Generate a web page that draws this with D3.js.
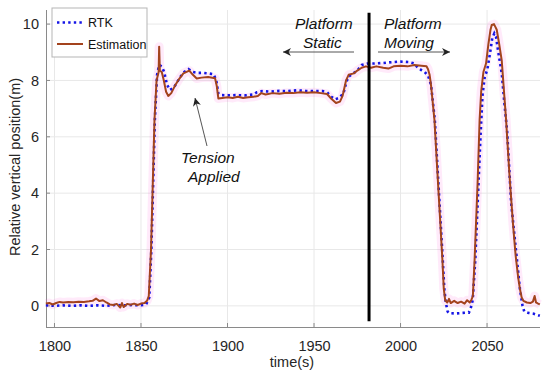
<!DOCTYPE html>
<html><head><meta charset="utf-8">
<script src="https://cdn.jsdelivr.net/npm/d3@7"></script>
<style>
html,body{margin:0;padding:0;background:#fff;}
svg{display:block;font-family:"Liberation Sans",Arial,sans-serif;}
</style></head>
<body><svg id="c" width="550" height="374"></svg>
<script>
// ---- data ----
const xTicks = [1800, 1850, 1900, 1950, 2000, 2050];
const yTicks = [0, 2, 4, 6, 8, 10];
const seriesNames = ["RTK", "Estimation"];

const rtkTime = [1795,1800,1805,1810,1815,1820,1825,1830,1835,1840,1845,1850,1853,1854.8,1856,1858,1859.3,1860.5,1862,1863.4,1865,1866.8,1869,1871,1873,1875,1877.4,1880,1883,1886,1889,1892,1893.5,1894.7,1896,1900,1905,1910,1915,1917,1920,1925,1930,1935,1940,1945,1950,1955,1957.5,1960,1962.2,1964.5,1967,1968.5,1969.8,1972.7,1975,1977.6,1981,1985,1990,1995,2000,2005,2008,2010,2012,2014,2016,2017.6,2019.8,2024.4,2025.3,2026.2,2027.2,2028,2032,2036,2039.5,2040.5,2041.7,2043.2,2046.2,2047.4,2048.6,2050.2,2051.7,2053,2054.2,2055.2,2056.6,2058.5,2060,2061.6,2064,2067.5,2069,2070.5,2071.5,2074,2077,2080.5];
const rtkValue = [0.02,0.0,0.02,0.0,0.02,0.0,0.02,0.0,0.03,0.02,0.03,0.02,0.05,0.3,2.0,6.6,8.2,8.55,8.5,8.3,7.85,7.66,7.75,7.95,8.15,8.3,8.4,8.3,8.27,8.27,8.25,8.22,8.0,7.54,7.48,7.47,7.48,7.47,7.5,7.58,7.62,7.6,7.63,7.62,7.65,7.63,7.62,7.62,7.58,7.42,7.33,7.38,7.54,7.9,8.13,8.25,8.35,8.55,8.6,8.6,8.62,8.65,8.67,8.65,8.6,8.45,8.37,8.3,8.15,7.85,6.6,1.63,0.6,0.1,-0.2,-0.26,-0.27,-0.25,-0.24,-0.1,0.2,1.63,6.0,7.5,8.1,8.4,8.96,9.5,9.67,9.55,8.96,8.25,7.2,6.2,3.6,1.5,0.6,0.0,-0.2,-0.25,-0.28,-0.35];

const estTime = [1795,1797,1799,1801,1803,1805,1808,1811,1814,1817,1820,1822,1824,1826,1828,1830,1832,1834,1836,1838,1839,1840,1842,1844,1846,1848,1850,1852,1853.5,1854.5,1855.8,1857.8,1859,1860.2,1860.5,1860.9,1862,1863.2,1864.5,1865.8,1867.5,1869.5,1872,1874.5,1877.9,1880,1882.2,1885,1888.8,1892.8,1893.8,1894.7,1897,1900,1903,1906,1909,1912,1915,1917.5,1919.5,1922,1926,1930,1934,1938,1942,1946,1950,1954,1957.5,1960,1962.7,1965,1966.5,1968.5,1970,1973,1975,1977.5,1980,1983,1986,1990,1993,1996,2000,2004,2008,2012,2015,2015.9,2016.8,2017.6,2019.6,2022,2024.2,2025,2025.8,2027,2028,2029,2031,2033,2035,2037,2038.5,2040,2041,2041.8,2042.8,2044.5,2045.7,2046.6,2047.9,2049.4,2050.8,2052,2052.7,2054,2054.8,2055.6,2057,2058.5,2059.8,2061,2063,2065,2066.5,2068,2069,2070,2071,2073,2075,2076.5,2077.5,2078.3,2079.5,2080.5];
const estValue = [0.08,0.1,0.05,0.1,0.14,0.12,0.14,0.13,0.15,0.14,0.16,0.18,0.26,0.17,0.2,0.12,0.05,0.03,0.07,-0.06,0.1,-0.04,0.07,0.04,0.08,0.03,0.08,0.1,0.18,0.35,2.0,6.6,8.0,8.3,9.2,8.35,8.3,8.0,7.6,7.45,7.55,7.8,8.05,8.25,8.35,8.2,8.07,8.1,8.12,8.08,7.8,7.36,7.38,7.4,7.38,7.42,7.38,7.4,7.42,7.45,7.55,7.5,7.55,7.53,7.56,7.55,7.58,7.56,7.58,7.55,7.52,7.35,7.2,7.25,7.45,8.0,8.2,8.25,8.35,8.45,8.5,8.45,8.5,8.45,8.42,8.5,8.52,8.5,8.55,8.52,8.5,8.4,8.2,7.84,6.6,4.0,1.63,0.6,0.2,0.12,0.25,0.1,0.18,0.1,0.15,0.08,0.2,0.12,0.22,0.35,1.63,4.3,6.6,7.6,8.3,8.6,9.3,9.8,9.97,10.0,9.9,9.8,9.3,8.7,7.6,6.6,4.6,2.9,1.8,1.0,0.6,0.3,0.18,0.12,0.1,0.15,0.35,0.12,0.08,0.05];

const markerTime = 1981.8;
const markerRange = [-0.55, 10.4];

// ---- layout ----
const svg = d3.select("#c");
const L = 46, R = 540, T = 10, B = 327;
const x = d3.scaleLinear().domain([1795.1, 2080.6]).range([L, R]);
const y = d3.scaleLinear().domain([-0.75, 10.5]).range([B, T]);

const defs = svg.append("defs");
defs.append("marker").attr("id","ah").attr("viewBox","0 0 10 10").attr("refX",10).attr("refY",5)
  .attr("markerWidth",11).attr("markerHeight",8).attr("markerUnits","userSpaceOnUse").attr("orient","auto")
  .append("path").attr("d","M0,0 L10,5 L0,10 L3,5 Z").attr("fill","#222");

// grid
const g = svg.append("g");
g.selectAll(".gx").data(xTicks).join("line")
  .attr("x1", d=>x(d)).attr("x2", d=>x(d)).attr("y1", T).attr("y2", B)
  .attr("stroke", "#e8e8e8").attr("stroke-width", 1);
g.selectAll(".gy").data(yTicks).join("line")
  .attr("x1", L).attr("x2", R).attr("y1", d=>y(d)).attr("y2", d=>y(d))
  .attr("stroke", "#e8e8e8").attr("stroke-width", 1);

// axes
const xAxis = d3.axisBottom(x).tickValues(xTicks).tickSize(0).tickPadding(14).tickFormat(d3.format("d"));
const yAxis = d3.axisLeft(y).tickValues(yTicks).tickSize(0).tickPadding(7);
const gx = svg.append("g").attr("transform", `translate(0,${B})`).call(xAxis);
const gy = svg.append("g").attr("transform", `translate(${L},0)`).call(yAxis);
[gx, gy].forEach(a => {
  a.select(".domain").attr("stroke", "#8a8a8a").attr("stroke-width", 1);
  a.selectAll("text").attr("font-size", 14.5).attr("fill", "#262626").attr("font-family", "Liberation Sans, Arial, sans-serif");
});
gx.select(".domain").attr("d", `M${L},0.5H${R}`);
gy.select(".domain").attr("d", `M0.5,${T}V${B}`);

// inward ticks
svg.append("g").selectAll("line").data(xTicks).join("line")
  .attr("x1", d=>x(d)).attr("x2", d=>x(d)).attr("y1", B).attr("y2", B-4).attr("stroke","#8a8a8a");
svg.append("g").selectAll("line").data(yTicks).join("line")
  .attr("x1", L).attr("x2", L+4).attr("y1", d=>y(d)).attr("y2", d=>y(d)).attr("stroke","#8a8a8a");

// series
const rtk = rtkTime.map((t,i)=>[t, rtkValue[i]]);
const est = estTime.map((t,i)=>[t, estValue[i]]);
const line = d3.line().x(d=>x(d[0])).y(d=>y(d[1]));

svg.append("path").attr("d", line(est)).attr("fill","none")
  .attr("stroke","#ff4fd8").attr("stroke-opacity",0.12).attr("stroke-width",9).attr("stroke-linejoin","round");
svg.append("path").attr("d", line(rtk)).attr("fill","none")
  .attr("stroke","#1515e6").attr("stroke-width",2.6).attr("stroke-dasharray","2.4,3.2");
svg.append("path").attr("d", line(est)).attr("fill","none")
  .attr("stroke","#a3431d").attr("stroke-width",2).attr("stroke-linejoin","round");

// platform boundary
svg.append("line").attr("x1", x(markerTime)).attr("x2", x(markerTime))
  .attr("y1", y(markerRange[0])).attr("y2", y(markerRange[1]))
  .attr("stroke","#000").attr("stroke-width",3);

// annotations
const ann = svg.append("g").attr("font-size", 15.5).attr("font-style","italic").attr("fill","#111");
ann.append("text").attr("x",295).attr("y",29).text("Platform");
ann.append("text").attr("x",303).attr("y",48).text("Static");
ann.append("text").attr("x",384).attr("y",29).text("Platform");
ann.append("text").attr("x",384).attr("y",48).text("Moving");
ann.append("text").attr("x",181).attr("y",163).text("Tension");
ann.append("text").attr("x",188).attr("y",182).text("Applied");

svg.append("line").attr("x1",354).attr("y1",52).attr("x2",283).attr("y2",52)
  .attr("stroke","#555").attr("stroke-width",1).attr("marker-end","url(#ah)");
svg.append("line").attr("x1",378).attr("y1",52).attr("x2",450).attr("y2",52)
  .attr("stroke","#555").attr("stroke-width",1).attr("marker-end","url(#ah)");
svg.append("line").attr("x1",207).attr("y1",146).attr("x2",195).attr("y2",98)
  .attr("stroke","#555").attr("stroke-width",1).attr("marker-end","url(#ah)");

// axis labels
svg.append("text").attr("x", 292).attr("y", 367).attr("text-anchor","middle")
  .attr("font-size",14.5).attr("fill","#262626").text("time(s)");
svg.append("text").attr("transform","translate(20,167) rotate(-90)").attr("text-anchor","middle")
  .attr("font-size",14.5).attr("fill","#262626").text("Relative vertical position(m)");

// legend
const lg = svg.append("g");
lg.append("rect").attr("x",52).attr("y",8).attr("width",95).attr("height",49)
  .attr("fill","#fff").attr("stroke","#b5b5b5").attr("stroke-width",1);
lg.append("line").attr("x1",57).attr("x2",83).attr("y1",22.5).attr("y2",22.5)
  .attr("stroke","#1515e6").attr("stroke-width",2.6).attr("stroke-dasharray","2.4,3.2");
lg.append("line").attr("x1",57).attr("x2",83).attr("y1",44).attr("y2",44)
  .attr("stroke","#a3431d").attr("stroke-width",2);
lg.append("text").attr("x",88).attr("y",27).attr("font-size",12.5).attr("fill","#111").text(seriesNames[0]);
lg.append("text").attr("x",88).attr("y",48.5).attr("font-size",12.5).attr("fill","#111").text(seriesNames[1]);
</script></body></html>
